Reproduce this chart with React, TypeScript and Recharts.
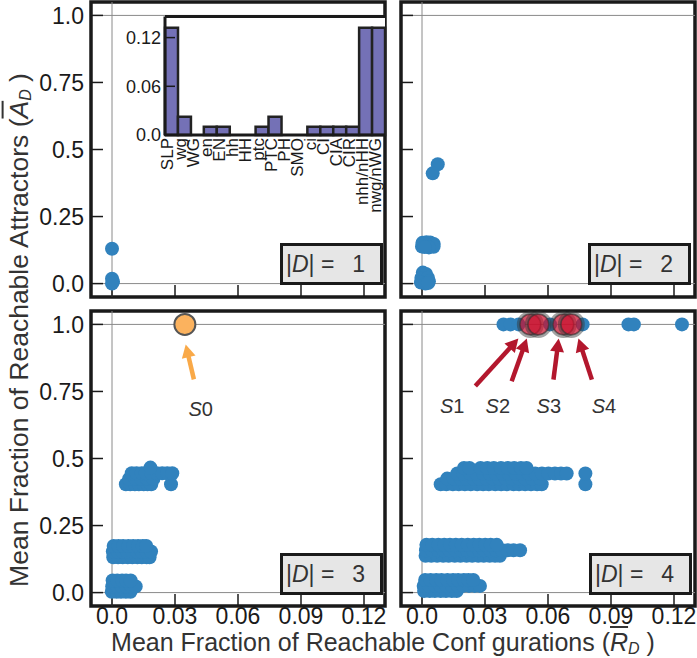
import React from "react";
import {
  Bar,
  BarChart,
  CartesianGrid,
  ReferenceArea,
  ReferenceDot,
  ReferenceLine,
  Scatter,
  ScatterChart,
  XAxis,
  YAxis,
} from "recharts";

type Row = [number, number[]];

const FONT = "'Liberation Sans', Arial, Helvetica, sans-serif";
const INK = "#1a1a1a";
const LABEL = "#333";
const BLUE = "#3182bd";
const PURPLE = "#7471b6";
const ORANGE = "#fbb25e";
const ORANGE_ARROW = "#f9a948";
const RED = "#c8102e";
const RED_ARROW = "#b3172d";
const GRID = "#8a8a8a";

const X_DOMAIN = [-0.01, 0.13];
const Y_DOMAIN = [-0.05, 1.05];
const xTicks = [0, 0.03, 0.06, 0.09, 0.12];
const yTicks = [0, 0.25, 0.5, 0.75, 1];

// |D| = 1
const d1Points: [number, number][] = [
  [0, 0.13],
  [0, 0.018],
  [0.0005, 0.007],
  [0, 0],
];

// |D| = 2
const d2Points: [number, number][] = [
  [0.0075, 0.445], [0.0051, 0.411],
  [0, 0.138], [0.0002, 0.152], [0.0021, 0.154], [0.0039, 0.153], [0.0056, 0.148],
  [0.0055, 0.137], [0.0033, 0.135], [0.0013, 0.136],
  [0.0004, 0.041], [0.0019, 0.036], [-0.0003, 0.021], [0.0028, 0.022],
  [0.0033, 0.008], [-0.0005, 0.004], [0.0016, 0.0], [0.0029, 0.002],
];

// |D| = 3, rows of [y, x values]
const d3Rows: Row[] = [
  [0.003, [-0.0001, 0.0022, 0.0043, 0.0066, 0.0088]],
  [0.023, [0.0001, 0.0024, 0.0046, 0.0069, 0.0092, 0.0113]],
  [0.045, [0.0003, 0.0025, 0.0048, 0.0067, 0.0089]],
  [0.132, [0.0006, 0.0029, 0.0051, 0.0075, 0.0097, 0.0121, 0.0142, 0.0165, 0.0179]],
  [0.153, [0.0004, 0.0027, 0.0049, 0.0072, 0.0096, 0.0118, 0.0141, 0.0163, 0.0186]],
  [0.174, [0.0008, 0.0031, 0.0053, 0.0078, 0.0101, 0.0124, 0.0146, 0.0163]],
  [0.404, [0.0066, 0.0087, 0.0109, 0.0128, 0.0151, 0.0169, 0.0187, 0.0281]],
  [0.424, [0.0081, 0.0112, 0.0139, 0.0168, 0.0197]],
  [0.445, [0.0094, 0.0117, 0.0142, 0.0161, 0.0188, 0.0213, 0.0239, 0.0263, 0.0287]],
  [0.466, [0.0183]],
];

// |D| = 4
const d4Rows: Row[] = [
  [0.006, [0.001, 0.0037, 0.0061, 0.0089, 0.0114, 0.0142, 0.0165]],
  [0.025, [0.0008, 0.0035, 0.0063, 0.0088, 0.0117, 0.0143, 0.0171, 0.0196, 0.0224, 0.0251, 0.0276]],
  [0.047, [0.0015, 0.0041, 0.0068, 0.0093, 0.0121, 0.0148, 0.0172, 0.0199, 0.0221, 0.0244]],
  [0.137, [0.0017, 0.0044, 0.0072, 0.0101, 0.0127, 0.0156, 0.0183, 0.0212, 0.0239, 0.0268, 0.0294, 0.0322, 0.0348, 0.0371]],
  [0.158, [0.0019, 0.0047, 0.0076, 0.0103, 0.0131, 0.0159, 0.0186, 0.0214, 0.0243, 0.0271, 0.0297, 0.0326, 0.0352, 0.0381, 0.0408, 0.0436, 0.0467]],
  [0.178, [0.0021, 0.0049, 0.0078, 0.0106, 0.0133, 0.0161, 0.0189, 0.0218, 0.0246, 0.0273, 0.0301, 0.0327, 0.0356]],
  [0.404, [0.0089, 0.0116, 0.0147, 0.0175, 0.0204, 0.0232, 0.0263, 0.0291, 0.0318, 0.0349, 0.0377, 0.0404, 0.0436, 0.0462, 0.0491, 0.0519, 0.0548, 0.057, 0.0778]],
  [0.425, [0.012, 0.0151, 0.0183, 0.0212, 0.0244, 0.0273, 0.0306, 0.0337, 0.0366, 0.0398, 0.0429, 0.0461, 0.0492, 0.0524, 0.0562]],
  [0.444, [0.0168, 0.0197, 0.0229, 0.0258, 0.0291, 0.0322, 0.0351, 0.0384, 0.0413, 0.0446, 0.0477, 0.0508, 0.0539, 0.0571, 0.0602, 0.0633, 0.0662, 0.0689, 0.0778]],
  [0.465, [0.02, 0.0226, 0.0279, 0.0311, 0.0342, 0.0376, 0.0408, 0.0439, 0.0471, 0.0498]],
];
const d4TopX = [0.0388, 0.0422, 0.046, 0.061, 0.0765, 0.0983, 0.1009, 0.1238];

// highlighted states
const s0Point = { x: 0.0347, y: 1 };
const s0Arrow = { tail: [0.039, 0.795], tip: [0.0351, 0.925] };
const s0Label = [0.0422, 0.658];

const sNames = ["S1", "S2", "S3", "S4"];
const sPointX = [0.0516, 0.0554, 0.0673, 0.0711];
const sArrowTail = [[0.0254, 0.77], [0.0427, 0.788], [0.0626, 0.794], [0.0809, 0.794]];
const sArrowTip = [[0.0459, 0.947], [0.0499, 0.947], [0.0651, 0.947], [0.0745, 0.947]];
const sLabelX = [0.0144, 0.0361, 0.0604, 0.0866];
const sLabelY = 0.668;

// inset: bars per node
const insetNames = ["SLP", "wg", "WG", "en", "EN", "hh", "HH", "ptc", "PTC", "PH", "SMO", "ci", "CI", "CIA", "CIR", "nhh/nHH", "nwg/nWG"];
const insetValues = [0.132, 0.0226, 0, 0.0102, 0.0102, 0, 0, 0.0102, 0.0226, 0, 0, 0.0102, 0.0102, 0.0102, 0.0102, 0.132, 0.132];
const insetTicks = [0, 0.06, 0.12];
const INSET_MAX = 0.146;

const rowsToPoints = (rows: Row[]) => rows.flatMap(([y, xs]) => xs.map((x) => ({ x, y })));
const pairsToPoints = (pairs: [number, number][]) => pairs.map(([x, y]) => ({ x, y }));

const fmt = (v: number) => (v === 0 ? "0.0" : v === 1 ? "1.0" : String(v));
const blank = () => "";

const blueDot = (p: any) => <circle cx={p.cx} cy={p.cy} r={7} fill={BLUE} />;
const orangeDot = (p: any) => (
  <circle cx={p.cx} cy={p.cy} r={10.5} fill={ORANGE} stroke="#555" strokeWidth={2} />
);
const redDot = (p: any) => (
  <g>
    <circle cx={p.cx} cy={p.cy} r={11.5} fill="none" stroke="#333" strokeOpacity={0.45} strokeWidth={4} />
    <circle cx={p.cx} cy={p.cy} r={10.5} fill={RED} fillOpacity={0.72} stroke="#333" strokeOpacity={0.6} strokeWidth={1.5} />
  </g>
);

const arrowShape = (color: string) => (p: any) => {
  const { x1, y1, x2, y2 } = p;
  const dx = x2 - x1;
  const dy = y2 - y1;
  const len = Math.hypot(dx, dy) || 1;
  const ux = dx / len;
  const uy = dy / len;
  const hl = 13;
  const hw = 7;
  const bx = x2 - ux * hl;
  const by = y2 - uy * hl;
  return (
    <g>
      <line x1={x1} y1={y1} x2={bx + ux} y2={by + uy} stroke={color} strokeWidth={4.5} />
      <polygon
        points={`${x2},${y2} ${bx - uy * hw},${by + ux * hw} ${bx + uy * hw},${by - ux * hw}`}
        fill={color}
      />
    </g>
  );
};

const sLabelShape = (name: string) => (p: any) => (
  <text x={p.cx} y={p.cy} textAnchor="middle" fontSize={20} fill={LABEL}>
    <tspan fontStyle="italic">{name[0]}</tspan>
    <tspan>{name.slice(1)}</tspan>
  </text>
);

function Panel({
  left,
  top,
  width,
  height,
  margin,
  yAxisWidth,
  xAxisHeight,
  xLabels,
  yLabels,
  points,
  children,
}: any) {
  return (
    <div style={{ position: "absolute", left, top }}>
      <ScatterChart width={width} height={height} margin={margin}>
        <XAxis
          type="number"
          dataKey="x"
          domain={X_DOMAIN}
          ticks={xTicks}
          interval={0}
          allowDataOverflow
          height={xAxisHeight}
          axisLine={false}
          tickSize={-12}
          tickMargin={14}
          tickLine={{ stroke: INK, strokeWidth: 1.5 }}
          tick={{ fill: INK, fontSize: 23 }}
          tickFormatter={xLabels ? fmt : blank}
        />
        <YAxis
          type="number"
          dataKey="y"
          domain={Y_DOMAIN}
          ticks={yTicks}
          interval={0}
          allowDataOverflow
          width={yAxisWidth}
          axisLine={false}
          tickSize={-12}
          tickMargin={19}
          tickLine={{ stroke: INK, strokeWidth: 1.5 }}
          tick={{ fill: INK, fontSize: 23 }}
          tickFormatter={yLabels ? fmt : blank}
        />
        <ReferenceLine x={0} stroke={GRID} strokeWidth={1} />
        <ReferenceLine y={0} stroke={GRID} strokeWidth={1} />
        <ReferenceLine y={1} stroke={GRID} strokeWidth={1} />
        <Scatter data={points} isAnimationActive={false} shape={blueDot} />
        {children}
        <ReferenceArea
          x1={X_DOMAIN[0]}
          x2={X_DOMAIN[1]}
          y1={Y_DOMAIN[0]}
          y2={Y_DOMAIN[1]}
          fill="none"
          fillOpacity={0}
          stroke={INK}
          strokeWidth={3.5}
          ifOverflow="visible"
        />
      </ScatterChart>
    </div>
  );
}

function DBox({ left, top, n }: { left: number; top: number; n: number }) {
  return (
    <div
      style={{
        position: "absolute",
        left,
        top,
        width: 103,
        height: 42,
        boxSizing: "border-box",
        border: `3px solid ${INK}`,
        background: "#e6e6e6",
        fontSize: 23,
        color: LABEL,
        lineHeight: "36px",
        paddingLeft: 3,
        whiteSpace: "pre",
      }}
    >
      |<i>D</i>| = {"\u2002"}
      {n}
    </div>
  );
}

const InsetTick = (p: any) => (
  <text
    x={p.x}
    y={p.y}
    dy={2}
    transform={`rotate(-90 ${p.x} ${p.y})`}
    textAnchor="end"
    fontSize={17}
    fill={INK}
  >
    {p.payload.value}
  </text>
);

const subStyle = { fontSize: 16, lineHeight: 0.8, verticalAlign: "-3px" };

export default function App() {
  const insetData = insetNames.map((name, i) => ({ name, value: insetValues[i] }));
  const d4Points = [...rowsToPoints(d4Rows), ...d4TopX.map((x) => ({ x, y: 1 }))];
  const sPoints = sPointX.map((x) => ({ x, y: 1 }));

  return (
    <div
      style={{
        position: "absolute",
        left: 0,
        top: 0,
        width: 697,
        height: 658,
        background: "#fff",
        fontFamily: FONT,
        overflow: "hidden",
      }}
    >
      {/* |D| = 1 */}
      <Panel
        left={0}
        top={0}
        width={392}
        height={305}
        margin={{ top: 2, right: 7, bottom: 0, left: 0 }}
        yAxisWidth={91}
        xAxisHeight={8}
        xLabels={false}
        yLabels
        points={pairsToPoints(d1Points)}
      />
      <div style={{ position: "absolute", left: 110, top: 10 }}>
        <BarChart
          width={280}
          height={210}
          data={insetData}
          margin={{ top: 6.5, right: 5, bottom: 0, left: 0 }}
          barCategoryGap={0}
          barGap={0}
        >
          <CartesianGrid fill="#fff" horizontal={false} vertical={false} />
          <XAxis
            dataKey="name"
            interval={0}
            height={85}
            tickLine={false}
            tickSize={0}
            tickMargin={3}
            axisLine={{ stroke: INK, strokeWidth: 3 }}
            tick={InsetTick}
          />
          <YAxis
            type="number"
            domain={[0, INSET_MAX]}
            ticks={insetTicks}
            interval={0}
            width={55}
            tickSize={-10}
            tickMargin={14}
            axisLine={{ stroke: INK, strokeWidth: 3 }}
            tickLine={{ stroke: INK, strokeWidth: 1.5 }}
            tick={{ fill: INK, fontSize: 18 }}
            tickFormatter={(v: number) => (v === 0 ? "0.0" : String(v))}
          />
          <ReferenceLine y={INSET_MAX} stroke={INK} strokeWidth={3} />
          <Bar dataKey="value" fill={PURPLE} stroke="#222" strokeWidth={2.5} isAnimationActive={false} />
        </BarChart>
      </div>
      <DBox left={280} top={243} n={1} />

      {/* |D| = 2 */}
      <Panel
        left={392}
        top={0}
        width={305}
        height={305}
        margin={{ top: 2, right: 2, bottom: 0, left: 0 }}
        yAxisWidth={9}
        xAxisHeight={8}
        xLabels={false}
        yLabels={false}
        points={pairsToPoints(d2Points)}
      />
      <DBox left={588} top={243} n={2} />

      {/* |D| = 3 */}
      <Panel
        left={0}
        top={300}
        width={392}
        height={358}
        margin={{ top: 11, right: 7, bottom: 0, left: 0 }}
        yAxisWidth={91}
        xAxisHeight={52}
        xLabels
        yLabels
        points={rowsToPoints(d3Rows)}
      >
        <ReferenceLine
          segment={[
            { x: s0Arrow.tail[0], y: s0Arrow.tail[1] },
            { x: s0Arrow.tip[0], y: s0Arrow.tip[1] },
          ]}
          shape={arrowShape(ORANGE_ARROW)}
          ifOverflow="visible"
        />
        <Scatter data={[s0Point]} isAnimationActive={false} shape={orangeDot} />
        <ReferenceDot x={s0Label[0]} y={s0Label[1]} r={0} shape={sLabelShape("S0")} />
      </Panel>
      <DBox left={280} top={553} n={3} />

      {/* |D| = 4 */}
      <Panel
        left={392}
        top={300}
        width={305}
        height={358}
        margin={{ top: 11, right: 2, bottom: 0, left: 0 }}
        yAxisWidth={9}
        xAxisHeight={52}
        xLabels
        yLabels={false}
        points={d4Points}
      >
        <Scatter data={sPoints} isAnimationActive={false} shape={redDot} />
        {sNames.map((name, i) => (
          <ReferenceLine
            key={`a${name}`}
            segment={[
              { x: sArrowTail[i][0], y: sArrowTail[i][1] },
              { x: sArrowTip[i][0], y: sArrowTip[i][1] },
            ]}
            shape={arrowShape(RED_ARROW)}
            ifOverflow="visible"
          />
        ))}
        {sNames.map((name, i) => (
          <ReferenceDot key={`l${name}`} x={sLabelX[i]} y={sLabelY} r={0} shape={sLabelShape(name)} />
        ))}
      </Panel>
      <DBox left={589} top={553} n={4} />

      {/* axis titles */}
      <div
        style={{
          position: "absolute",
          left: 19,
          top: 330,
          transform: "translate(-50%, -50%) rotate(-90deg)",
          whiteSpace: "nowrap",
          fontSize: 26.5,
          lineHeight: 1,
          color: LABEL,
        }}
      >
        Mean Fraction of Reachable Attractors (
        <i style={{ textDecoration: "overline" }}>A</i>
        <span style={subStyle}>
          <i>D</i>
        </span>{" "}
        )
      </div>
      <div
        style={{
          position: "absolute",
          left: 383,
          top: 632,
          transform: "translateX(-50%)",
          whiteSpace: "nowrap",
          fontSize: 25,
          lineHeight: 0.8,
          color: LABEL,
        }}
      >
        Mean Fraction of Reachable Conf gurations (
        <i style={{ textDecoration: "overline" }}>R</i>
        <span style={subStyle}>
          <i>D</i>
        </span>{" "}
        )
      </div>
    </div>
  );
}
